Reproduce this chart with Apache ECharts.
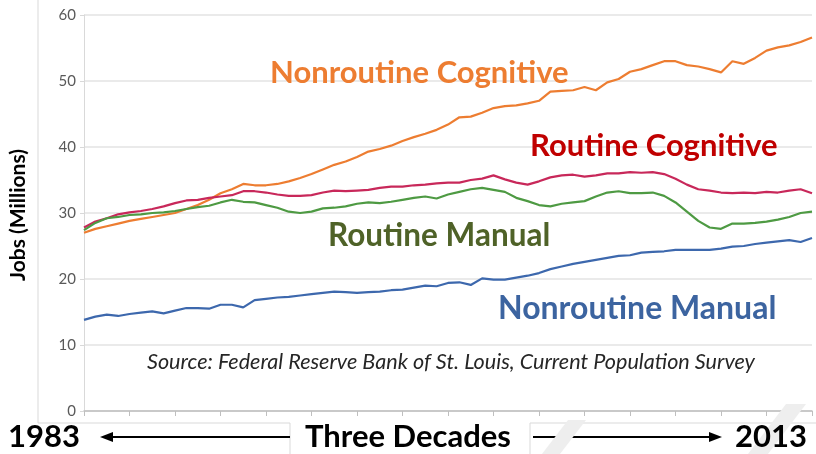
<!DOCTYPE html>
<html>
<head>
<meta charset="utf-8">
<script src="https://cdn.jsdelivr.net/npm/echarts@6/dist/echarts.min.js"></script>
<style>
  html, body { margin: 0; padding: 0; background: #fff; }
  #chart { width: 816px; height: 454px; }
</style>
</head>
<body>
<div id="chart"></div>
<script>
// roughly half-year steps from 1983 to 2013
const periods = Array.from({ length: 65 }, (_, i) => 'p' + i);
const yTicks = [0, 10, 20, 30, 40, 50, 60];

const nonroutineCognitive = [
  27.0, 27.6, 28.0, 28.4, 28.8, 29.1, 29.4, 29.7, 30.0, 30.6,
  31.2, 32.0, 33.0, 33.6, 34.4, 34.2, 34.2, 34.4, 34.8, 35.3,
  35.9, 36.6, 37.3, 37.8, 38.5, 39.3, 39.7, 40.2, 40.9, 41.5,
  42.0, 42.6, 43.4, 44.5, 44.6, 45.2, 45.9, 46.2, 46.3, 46.6,
  47.0, 48.4, 48.5, 48.6, 49.1, 48.6, 49.8, 50.3, 51.4, 51.8,
  52.4, 53.0, 53.0, 52.4, 52.2, 51.8, 51.3, 53.0, 52.6, 53.5,
  54.6, 55.1, 55.4, 55.9, 56.6
];
const routineCognitive = [
  27.8, 28.7, 29.2, 29.8, 30.1, 30.3, 30.6, 31.0, 31.5, 31.9,
  32.0, 32.3, 32.5, 32.7, 33.3, 33.3, 33.1, 32.8, 32.6, 32.6,
  32.7, 33.1, 33.4, 33.3, 33.4, 33.5, 33.8, 34.0, 34.0, 34.2,
  34.3, 34.5, 34.6, 34.6, 35.0, 35.2, 35.7, 35.1, 34.6, 34.3,
  34.8, 35.4, 35.7, 35.8, 35.5, 35.7, 36.0, 36.0, 36.2, 36.1,
  36.2, 35.9, 35.2, 34.3, 33.6, 33.4, 33.1, 33.0, 33.1, 33.0,
  33.2, 33.1, 33.4, 33.6, 33.0
];
const routineManual = [
  27.4, 28.5, 29.2, 29.4, 29.7, 29.8, 30.0, 30.1, 30.3, 30.6,
  30.9, 31.1, 31.6, 32.0, 31.7, 31.6, 31.2, 30.8, 30.2, 30.0,
  30.2, 30.7, 30.8, 31.0, 31.4, 31.6, 31.5, 31.7, 32.0, 32.3,
  32.5, 32.2, 32.8, 33.2, 33.6, 33.8, 33.5, 33.2, 32.3, 31.8,
  31.2, 31.0, 31.4, 31.6, 31.8, 32.5, 33.1, 33.3, 33.0, 33.0,
  33.1, 32.6, 31.6, 30.2, 28.8, 27.8, 27.6, 28.4, 28.4, 28.5,
  28.7, 29.0, 29.4, 30.0, 30.2
];
const nonroutineManual = [
  13.8, 14.3, 14.6, 14.4, 14.7, 14.9, 15.1, 14.8, 15.2, 15.6,
  15.6, 15.5, 16.1, 16.1, 15.7, 16.8, 17.0, 17.2, 17.3, 17.5,
  17.7, 17.9, 18.1, 18.0, 17.9, 18.0, 18.1, 18.3, 18.4, 18.7,
  19.0, 18.9, 19.4, 19.5, 19.1, 20.1, 19.9, 19.9, 20.2, 20.5,
  20.9, 21.5, 21.9, 22.3, 22.6, 22.9, 23.2, 23.5, 23.6, 24.0,
  24.1, 24.2, 24.4, 24.4, 24.4, 24.4, 24.6, 24.9, 25.0, 25.3,
  25.5, 25.7, 25.9, 25.6, 26.2
];

const FONT = 'Lato';
const chart = echarts.init(document.getElementById('chart'));

function label(text, x, y, size, color) {
  return {
    type: 'text', left: x, top: y, z: 10,
    style: { text: text, fill: color, font: 'bold ' + size + 'px ' + FONT }
  };
}

const option = {
  backgroundColor: '#fff',
  animation: false,
  grid: { left: 84, right: 4, top: 15, bottom: 43 },
  xAxis: {
    type: 'category',
    data: periods,
    boundaryGap: false,
    axisLine: { lineStyle: { color: '#bfbfbf', width: 1.5 } },
    axisTick: { show: true, interval: 3, length: 5, lineStyle: { color: '#bfbfbf' } },
    axisLabel: { show: false },
    splitLine: { show: false }
  },
  yAxis: {
    type: 'value',
    min: yTicks[0],
    max: yTicks[yTicks.length - 1],
    interval: 10,
    axisLine: { show: true, lineStyle: { color: '#d9d9d9' } },
    axisTick: { show: true, length: 4, lineStyle: { color: '#d9d9d9' } },
    axisLabel: { color: '#595959', fontSize: 15, fontFamily: FONT, margin: 8 },
    splitLine: { lineStyle: { color: '#e3e3e3', width: 1.5 } }
  },
  series: [
    { name: 'Nonroutine Cognitive', type: 'line', data: nonroutineCognitive, showSymbol: false,
      lineStyle: { color: '#ed7d31', width: 2.2 } },
    { name: 'Routine Cognitive', type: 'line', data: routineCognitive, showSymbol: false,
      lineStyle: { color: '#c8285a', width: 2.2 } },
    { name: 'Routine Manual', type: 'line', data: routineManual, showSymbol: false,
      lineStyle: { color: '#4e9a43', width: 2.2 } },
    { name: 'Nonroutine Manual', type: 'line', data: nonroutineManual, showSymbol: false,
      lineStyle: { color: '#3d68ad', width: 2.2 } }
  ],
  graphic: [
    // faint diagonal watermark strokes at the bottom right
    { type: 'polygon', z: 1, shape: { points: [[542, 454], [560, 454], [586, 420], [568, 420]] },
      style: { fill: '#eeeeee' } },
    { type: 'polygon', z: 1, shape: { points: [[748, 454], [768, 454], [806, 404], [786, 404]] },
      style: { fill: '#eeeeee' } },

    // outer frame
    { type: 'polyline', shape: { points: [[38, 0], [38, 423], [290, 423], [290, 454]] },
      style: { stroke: '#d9d9d9', lineWidth: 1, fill: null } },
    { type: 'polyline', shape: { points: [[530, 454], [530, 423], [816, 423]] },
      style: { stroke: '#d9d9d9', lineWidth: 1, fill: null } },

    // series labels
    label('Nonroutine Cognitive', 270, 57, 31, '#ed7d31'),
    label('Routine Cognitive', 530, 130, 31, '#c00000'),
    label('Routine Manual', 328, 220, 31.5, '#4f6228'),
    label('Nonroutine Manual', 498, 293, 32, '#3c64a0'),

    // source note
    { type: 'text', left: 147, top: 351, z: 10,
      style: { text: 'Source: Federal Reserve Bank of St. Louis, Current Population Survey',
               fill: '#262626', font: 'italic 21.6px ' + FONT } },

    // y axis name
    { type: 'text', x: 18, y: 215, rotation: Math.PI / 2, z: 10,
      style: { text: 'Jobs (Millions)', fill: '#000', font: 'bold 21px ' + FONT,
               align: 'center', verticalAlign: 'middle' } },

    // bottom timeline
    label('1983', 8, 421, 31, '#000'),
    label('Three Decades', 305, 421, 31, '#000'),
    label('2013', 735, 421, 31, '#000'),
    { type: 'line', shape: { x1: 110, y1: 437, x2: 290, y2: 437 },
      style: { stroke: '#000', lineWidth: 2 } },
    { type: 'polygon', shape: { points: [[100, 437], [113, 432], [113, 442]] }, style: { fill: '#000' } },
    { type: 'line', shape: { x1: 533, y1: 437, x2: 712, y2: 437 },
      style: { stroke: '#000', lineWidth: 2 } },
    { type: 'polygon', shape: { points: [[722, 437], [709, 432], [709, 442]] }, style: { fill: '#000' } }
  ]
};

chart.setOption(option);
</script>
</body>
</html>
